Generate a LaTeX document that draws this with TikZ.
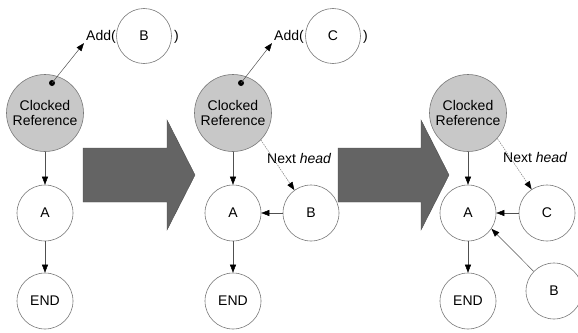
\documentclass[tikz,border=0pt]{standalone}
\usepackage{fontspec}
\setmainfont{Liberation Sans}
\usetikzlibrary{arrows.meta}
\definecolor{refgray}{RGB}{200,200,200}
\definecolor{bigarrow}{RGB}{100,100,100}
\definecolor{edgegray}{RGB}{120,120,120}
\definecolor{linegray}{RGB}{80,80,80}
\tikzset{
  txt/.style={font=\fontsize{14}{15.5}\selectfont, inner sep=0pt},
  bubble/.style={circle, draw=edgegray, line width=0.6pt, minimum size=56pt, inner sep=0pt, txt},
  clocked/.style={bubble, fill=refgray, minimum size=77pt, align=center},
  dotnode/.style={circle, fill=black, minimum size=6pt, inner sep=0pt},
  arr/.style={draw=linegray, line width=0.5pt, -{Triangle[length=8pt,width=6pt,color=black]}},
  nexthead/.style={draw=gray, line width=0.5pt, dash pattern=on 1.5pt off 1pt, -{Triangle[length=8pt,width=6pt,color=black]}},
  bigarr/.style={fill=bigarrow, draw=black!70, line width=0.4pt}
}
\begin{document}
\begin{tikzpicture}[x=1pt,y=-1pt]
\useasboundingbox (0,0) rectangle (578,332);
\clip (0,0) rectangle (578,332);
% big arrows
\fill[bigarr] (83,148) -- (167,148) -- (167,120) -- (195,175) -- (167,230) -- (167,202) -- (83,202) -- cycle;
\fill[bigarr] (338,148) -- (421,148) -- (421,120) -- (449,175) -- (421,230) -- (421,202) -- (338,202) -- cycle;

% panel 1
\node[clocked] (cr1) at (45,113) {Clocked\\Reference};
\node[bubble] (a1) at (45,213) {A};
\node[bubble] (e1) at (45,301) {END};
\node[dotnode] (d1) at (52,83) {};
\node[txt, anchor=base west] (add1) at (86,40) {Add(};
\node[bubble, minimum size=55pt] (b1) at (144,36) {B};
\node[txt, anchor=base west] (cp1) at (174,40) {)};
\draw[arr] (d1.center) -- ([xshift=-2pt]add1.south west);
\draw[arr] (cr1) -- (a1);
\draw[arr] (a1) -- (e1);

% panel 2
\node[clocked] (cr2) at (233,113) {Clocked\\Reference};
\node[bubble] (a2) at (233,213) {A};
\node[bubble] (e2) at (233,301) {END};
\node[bubble] (b2) at (311,213) {B};
\node[dotnode] (d2) at (241,83) {};
\node[txt, anchor=base west] (add2) at (274,40) {Add(};
\node[bubble, minimum size=55pt] (c2) at (333,36) {C};
\node[txt, anchor=base west] (cp2) at (363,40) {)};
\node[txt, anchor=base west] (nh2) at (267,163) {Next \textit{head}};
\draw[arr] (d2.center) -- ([xshift=-2pt]add2.south west);
\draw[arr] (cr2) -- (a2);
\draw[arr] (a2) -- (e2);
\draw[arr] (b2) -- (a2);
\draw[nexthead] (cr2.-44) -- (b2.126);

% panel 3
\node[clocked] (cr3) at (468,113) {Clocked\\Reference};
\node[bubble] (a3) at (468,213) {A};
\node[bubble] (e3) at (468,301) {END};
\node[bubble] (c3) at (547,213) {C};
\node[bubble] (b3) at (554,291) {B};
\node[txt, anchor=base west] (nh3) at (503,162) {Next \textit{head}};
\draw[arr] (cr3) -- (a3);
\draw[arr] (a3) -- (e3);
\draw[arr] (c3) -- (a3);
\draw[arr] (b3.136) -- (a3.-34);
\draw[nexthead] (cr3.-41) -- (c3.123);
\end{tikzpicture}
\end{document}
